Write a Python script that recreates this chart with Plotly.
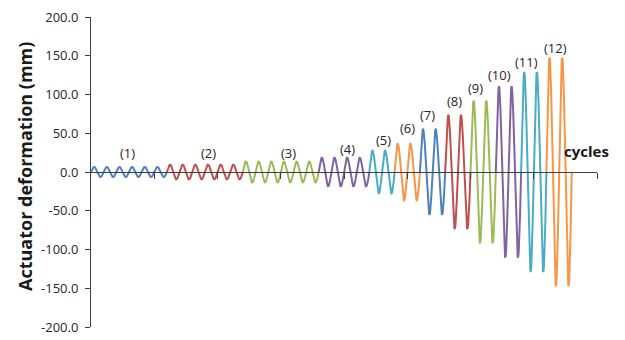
import numpy as np
import plotly.graph_objects as go

# Loading protocol
group_labels = ["(1)", "(2)", "(3)", "(4)", "(5)", "(6)", "(7)", "(8)", "(9)", "(10)", "(11)", "(12)"]
group_cycles = [6, 6, 6, 4, 2, 2, 2, 2, 2, 2, 2, 2]
group_amplitude = [6.5, 9.5, 13.5, 18.5, 27.5, 36.5, 55.0, 73.5, 92.0, 110.5, 129.0, 147.5]
label_x = [2.9, 9.3, 15.6, 20.3, 23.1, 25.0, 26.6, 28.7, 30.4, 32.3, 34.4, 36.7]
label_y = [24.5, 24.5, 24.5, 29.7, 41.0, 57.0, 73.5, 92.0, 108.0, 125.0, 142.0, 160.0]
y_ticks = [-200, -150, -100, -50, 0, 50, 100, 150, 200]
y_tick_labels = ["-200.0", "-150.0", "-100.0", "-50.0", "0.0", "50.0", "100.0", "150.0", "200.0"]
x_ticks = [5, 10, 15, 20, 25, 30, 35, 40]

colors = ["#4F81BD", "#C0504D", "#9BBB59", "#8064A2", "#4BACC6", "#F79646"]
font_family = "Open Sans, Lato, sans-serif"

fig = go.Figure()
start = 0
for i, (n, amp) in enumerate(zip(group_cycles, group_amplitude)):
    t = np.linspace(0, n, n * 48 + 1)
    fig.add_trace(go.Scatter(
        x=start + t, y=amp * np.sin(2 * np.pi * t),
        mode="lines", line=dict(color=colors[i % len(colors)], width=2),
        showlegend=False, hoverinfo="skip", cliponaxis=False,
    ))
    start += n

for lab, lx, ly in zip(group_labels, label_x, label_y):
    fig.add_annotation(x=lx, y=ly, xref="x", yref="y", text=lab, showarrow=False,
                       font=dict(family=font_family, size=13, color="#262626"))

fig.add_annotation(x=0, y=0.5, xref="paper", yref="paper", xanchor="center", yanchor="middle",
                   xshift=-66, yshift=5,
                   text="<b>Actuator deformation (mm)</b>", textangle=-90, showarrow=False,
                   font=dict(family=font_family, size=18, color="#1a1a1a"))
fig.add_annotation(x=1, y=0.5, xref="paper", yref="paper", xanchor="right", yanchor="bottom",
                   xshift=14, yshift=9,
                   text="<b>cycles</b>", showarrow=False,
                   font=dict(family=font_family, size=15, color="#1a1a1a"))

fig.update_layout(
    template="none",
    width=617, height=332,
    margin=dict(l=83, r=28, t=9, b=13, autoexpand=False),
    paper_bgcolor="white", plot_bgcolor="white",
    xaxis=dict(range=[0, 40], anchor="free", position=0.5, showline=True,
               linecolor="#404040", linewidth=1, ticks="outside", ticklen=6,
               tickcolor="#404040", tickvals=x_ticks, showticklabels=False,
               showgrid=False, zeroline=False, automargin=False),
    yaxis=dict(range=[-200, 200], tickvals=y_ticks, ticktext=y_tick_labels,
               showline=True, linecolor="#404040", linewidth=1, ticks="outside",
               ticklen=5, tickcolor="#404040", ticklabelstandoff=4,
               ticklabeloverflow="allow",
               showgrid=False, zeroline=False, automargin=False,
               tickfont=dict(family=font_family, size=13, color="#262626")),
)
fig.write_html("out.html")
